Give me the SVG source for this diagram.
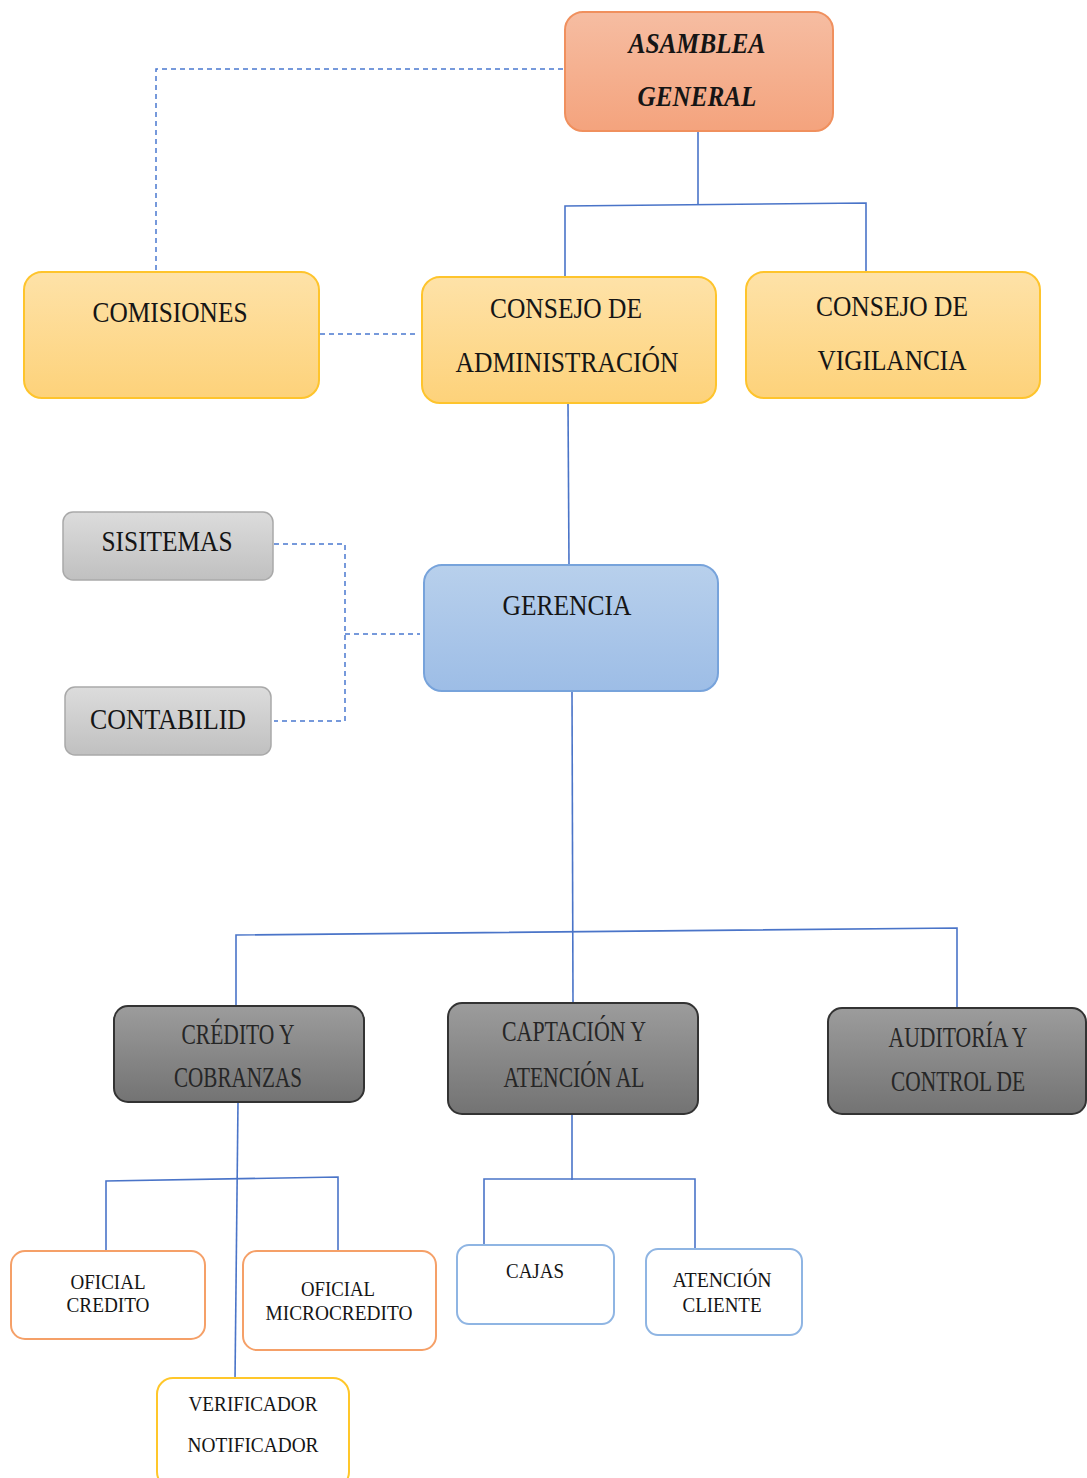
<svg xmlns="http://www.w3.org/2000/svg" width="1087" height="1478" viewBox="0 0 1087 1478">
<defs>
<linearGradient id="gOr" x1="0" y1="0" x2="0" y2="1"><stop offset="0" stop-color="#f6bda2"/><stop offset="1" stop-color="#f4a37d"/></linearGradient>
<linearGradient id="gYe" x1="0" y1="0" x2="0" y2="1"><stop offset="0" stop-color="#fee2a8"/><stop offset="1" stop-color="#fdd27a"/></linearGradient>
<linearGradient id="gLg" x1="0" y1="0" x2="0" y2="1"><stop offset="0" stop-color="#dcdcdc"/><stop offset="1" stop-color="#c0c0c0"/></linearGradient>
<linearGradient id="gBl" x1="0" y1="0" x2="0" y2="1"><stop offset="0" stop-color="#b8d0ec"/><stop offset="1" stop-color="#9dbde6"/></linearGradient>
<linearGradient id="gDg" x1="0" y1="0" x2="0" y2="1"><stop offset="0" stop-color="#9c9c9c"/><stop offset="1" stop-color="#737373"/></linearGradient>
</defs>
<style>
text{font-family:"Liberation Serif","Times New Roman",serif;fill:#151515;text-anchor:middle}
.big{font-size:29px}
.sm{font-size:22px}
.it{font-style:italic;font-weight:bold}
.dk{fill:#262626}
.or{fill:url(#gOr);stroke:#f0905e;stroke-width:2}
.ye{fill:url(#gYe);stroke:#fec42c;stroke-width:2}
.lg{fill:url(#gLg);stroke:#a9a9a9;stroke-width:1.5}
.bl{fill:url(#gBl);stroke:#77a3db;stroke-width:2}
.dg{fill:url(#gDg);stroke:#333333;stroke-width:2}
.wo{fill:#fff;stroke:#f5a068;stroke-width:2}
.wb{fill:#fff;stroke:#8fb5e3;stroke-width:2}
.wy{fill:#fff;stroke:#ffc72a;stroke-width:2}
.ln{fill:none;stroke:#4a74c8;stroke-width:1.6}
.ds{fill:none;stroke:#4a78cf;stroke-width:1.5;stroke-dasharray:5 4}
</style>
<g id="connectors">
<polyline class="ds" points="563,69 156,69 156,270"/>
<line class="ds" x1="320" y1="334" x2="418" y2="334"/>
<polyline class="ds" points="274,544 345,544 345,721 274,721"/>
<line class="ds" x1="345" y1="634" x2="420" y2="634"/>
<line class="ln" x1="698" y1="131" x2="698" y2="205"/>
<polyline class="ln" points="565,277 565,206 866,203 866,272"/>
<line class="ln" x1="568" y1="403" x2="569" y2="565"/>
<line class="ln" x1="572" y1="691" x2="573" y2="1003"/>
<polyline class="ln" points="236,1005 236,935 957,928 957,1007"/>
<line class="ln" x1="238" y1="1102" x2="235" y2="1380"/>
<polyline class="ln" points="106,1250 106,1181 338,1177 338,1250"/>
<line class="ln" x1="572" y1="1115" x2="572" y2="1180"/>
<polyline class="ln" points="484,1246 484,1179 695,1179 695,1248"/>
</g>
<g id="asamblea">
<rect class="or" x="565" y="12" width="268" height="119" rx="18"/>
<text class="big it" x="697" y="53" textLength="137" lengthAdjust="spacingAndGlyphs">ASAMBLEA</text>
<text class="big it" x="697" y="106" textLength="119" lengthAdjust="spacingAndGlyphs">GENERAL</text>
</g>
<g id="comisiones">
<rect class="ye" x="24" y="272" width="295" height="126" rx="18"/>
<text class="big" x="170" y="322" textLength="155" lengthAdjust="spacingAndGlyphs">COMISIONES</text>
</g>
<g id="consejo-admin">
<rect class="ye" x="422" y="277" width="294" height="126" rx="18"/>
<text class="big" x="566" y="318" textLength="152" lengthAdjust="spacingAndGlyphs">CONSEJO DE</text>
<text class="big" x="567" y="372" textLength="223" lengthAdjust="spacingAndGlyphs">ADMINISTRACIÓN</text>
</g>
<g id="consejo-vigilancia">
<rect class="ye" x="746" y="272" width="294" height="126" rx="18"/>
<text class="big" x="892" y="316" textLength="152" lengthAdjust="spacingAndGlyphs">CONSEJO DE</text>
<text class="big" x="892" y="370" textLength="149" lengthAdjust="spacingAndGlyphs">VIGILANCIA</text>
</g>
<g id="sistemas">
<rect class="lg" x="63" y="512" width="210" height="68" rx="10"/>
<text class="big" x="167" y="551" textLength="131" lengthAdjust="spacingAndGlyphs">SISITEMAS</text>
</g>
<g id="contabilidad">
<rect class="lg" x="65" y="687" width="206" height="68" rx="10"/>
<text class="big" x="168" y="729" textLength="156" lengthAdjust="spacingAndGlyphs">CONTABILID</text>
</g>
<g id="gerencia">
<rect class="bl" x="424" y="565" width="294" height="126" rx="18"/>
<text class="big" x="567" y="615" textLength="129" lengthAdjust="spacingAndGlyphs">GERENCIA</text>
</g>
<g id="credito-cobranzas">
<rect class="dg" x="114" y="1006" width="250" height="96" rx="14"/>
<text class="big dk" x="238" y="1044" textLength="113" lengthAdjust="spacingAndGlyphs">CRÉDITO Y</text>
<text class="big dk" x="238" y="1087" textLength="128" lengthAdjust="spacingAndGlyphs">COBRANZAS</text>
</g>
<g id="captacion">
<rect class="dg" x="448" y="1003" width="250" height="111" rx="14"/>
<text class="big dk" x="574" y="1041" textLength="144" lengthAdjust="spacingAndGlyphs">CAPTACIÓN Y</text>
<text class="big dk" x="574" y="1087" textLength="141" lengthAdjust="spacingAndGlyphs">ATENCIÓN AL</text>
</g>
<g id="auditoria">
<rect class="dg" x="828" y="1008" width="258" height="106" rx="14"/>
<text class="big dk" x="958" y="1047" textLength="139" lengthAdjust="spacingAndGlyphs">AUDITORÍA Y</text>
<text class="big dk" x="958" y="1091" textLength="134" lengthAdjust="spacingAndGlyphs">CONTROL DE</text>
</g>
<g id="oficial-credito">
<rect class="wo" x="11" y="1251" width="194" height="88" rx="14"/>
<text class="sm" x="108" y="1289" textLength="75" lengthAdjust="spacingAndGlyphs">OFICIAL</text>
<text class="sm" x="108" y="1312" textLength="83" lengthAdjust="spacingAndGlyphs">CREDITO</text>
</g>
<g id="oficial-microcredito">
<rect class="wo" x="243" y="1251" width="193" height="99" rx="14"/>
<text class="sm" x="338" y="1296" textLength="74" lengthAdjust="spacingAndGlyphs">OFICIAL</text>
<text class="sm" x="339" y="1320" textLength="147" lengthAdjust="spacingAndGlyphs">MICROCREDITO</text>
</g>
<g id="cajas">
<rect class="wb" x="457" y="1245" width="157" height="79" rx="12"/>
<text class="sm" x="535" y="1278" textLength="58" lengthAdjust="spacingAndGlyphs">CAJAS</text>
</g>
<g id="atencion-cliente">
<rect class="wb" x="646" y="1249" width="156" height="86" rx="12"/>
<text class="sm" x="722" y="1287" textLength="99" lengthAdjust="spacingAndGlyphs">ATENCIÓN</text>
<text class="sm" x="722" y="1312" textLength="79" lengthAdjust="spacingAndGlyphs">CLIENTE</text>
</g>
<g id="verificador">
<rect class="wy" x="157" y="1378" width="192" height="110" rx="16"/>
<text class="sm" x="253" y="1411" textLength="129" lengthAdjust="spacingAndGlyphs">VERIFICADOR</text>
<text class="sm" x="253" y="1452" textLength="131" lengthAdjust="spacingAndGlyphs">NOTIFICADOR</text>
</g>
</svg>
